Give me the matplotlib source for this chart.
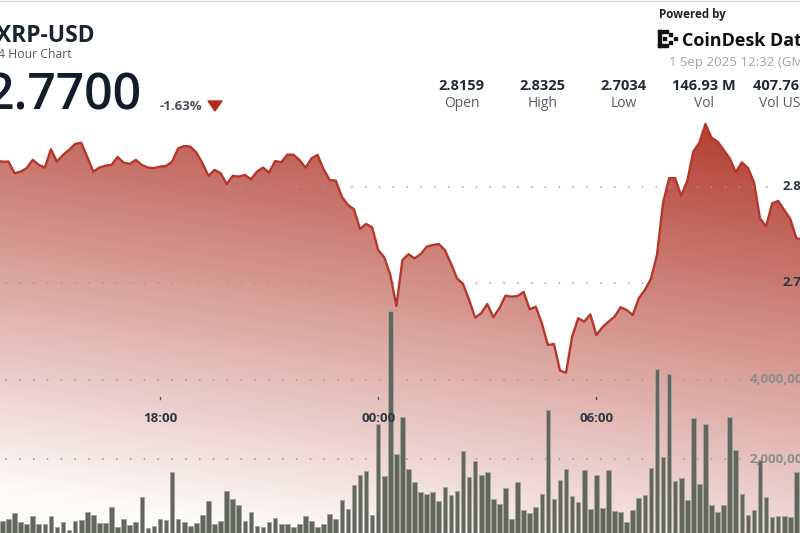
import numpy as np
import matplotlib
matplotlib.use("Agg")
import matplotlib.pyplot as plt
from matplotlib.patches import Polygon, Rectangle
from matplotlib.transforms import blended_transform_factory

plt.rcParams['font.family'] = ['Open Sans', 'DejaVu Sans']

# 10 minute data, minutes relative to 00:00 GMT 1 Sep 2025
price_start = -620
price = [
    2.8130, 2.8130, 2.8070, 2.8078, 2.8096, 2.8139, 2.8113, 2.8099, 2.8194, 2.8130,
    2.8165, 2.8191, 2.8222, 2.8228, 2.8154, 2.8078, 2.8099, 2.8109, 2.8113, 2.8154,
    2.8125, 2.8118, 2.8139, 2.8113, 2.8099, 2.8096, 2.8104, 2.8107, 2.8130, 2.8199,
    2.8211, 2.8208, 2.8177, 2.8122, 2.8056, 2.8087, 2.8070, 2.8014, 2.8056, 2.8052,
    2.8061, 2.8038, 2.8078, 2.8099, 2.8073, 2.8133, 2.8127, 2.8166, 2.8166, 2.8139,
    2.8099, 2.8147, 2.8165, 2.8090, 2.8035, 2.8031, 2.7948, 2.7905, 2.7883, 2.7781,
    2.7806, 2.7789, 2.7671, 2.7633, 2.7542, 2.7381, 2.7619, 2.7649, 2.7628, 2.7649,
    2.7688, 2.7697, 2.7702, 2.7671, 2.7602, 2.7524, 2.7495, 2.7412, 2.7320, 2.7343,
    2.7391, 2.7322, 2.7369, 2.7434, 2.7429, 2.7432, 2.7453, 2.7363, 2.7377, 2.7291,
    2.7178, 2.7183, 2.7045, 2.7034, 2.7221, 2.7317, 2.7299, 2.7337, 2.7230, 2.7270,
    2.7299, 2.7325, 2.7374, 2.7360, 2.7334, 2.7420, 2.7464, 2.7521, 2.7645, 2.7915,
    2.8044, 2.8044, 2.7952, 2.8030, 2.8182, 2.8229, 2.8325, 2.8254, 2.8234, 2.8191,
    2.8147, 2.8076, 2.8126, 2.8097, 2.8024, 2.7836, 2.7793, 2.7913, 2.7926, 2.7879,
    2.7832, 2.7732,
]
open_time, open_price = -690, 2.8159
close_time, close_price = 750, 2.7700

vol_start = -620
volume = [
    451e3, 502e3, 638e3, 426e3, 368e3, 578e3, 361e3, 361e3, 570e3, 300e3,
    411e3, 217e3, 444e3, 477e3, 663e3, 588e3, 393e3, 393e3, 797e3, 300e3,
    494e3, 335e3, 411e3, 1042e3, 260e3, 318e3, 494e3, 477e3, 1672e3, 494e3,
    426e3, 325e3, 401e3,
    595e3, 941e3, 361e3, 444e3, 1201e3, 999e3, 847e3, 444e3, 678e3, 318e3,
    285e3, 419e3, 512e3, 361e3, 361e3, 285e3, 361e3, 570e3, 451e3, 293e3,
    361e3, 628e3, 487e3, 974e3, 754e3, 1344e3, 1612e3, 1712e3, 595e3, 2890e3,
    1586e3, 5748e3, 2134e3,
    3067e3, 1763e3, 1435e3, 1175e3, 1125e3, 1168e3, 948e3, 1309e3, 1107e3, 1201e3,
    2209e3, 1546e3, 1950e3, 1612e3, 1687e3, 999e3, 865e3, 1276e3, 487e3, 1420e3,
    721e3, 638e3, 805e3, 1125e3, 3243e3, 991e3, 1470e3, 1763e3, 1082e3, 923e3,
    1723e3, 739e3, 1604e3,
    764e3, 1730e3, 704e3, 663e3, 411e3, 729e3, 1016e3, 1100e3, 1773e3, 4270e3,
    2066e3, 4151e3, 1445e3, 1528e3, 981e3, 3034e3, 1385e3, 2898e3, 840e3, 671e3,
    840e3, 3059e3, 2235e3, 1132e3, 603e3, 714e3, 1982e3, 1049e3, 552e3, 562e3,
    562e3, 552e3, 1680e3, 1496e3,
]

tick_times = [-360, 0, 360]
tick_labels = ['18:00', '00:00', '06:00']
price_grid = [2.80, 2.75]
vol_grid = [4_000_000, 2_000_000]

stat_values = ['2.8159', '2.8325', '2.7034', '146.93 M', '407.76 M']
stat_names = ['Open', 'High', 'Low', 'Vol', 'Vol USD']

W, H = 800, 533
fig = plt.figure(figsize=(W / 100, H / 100), dpi=100)


def fx(x):
    return x / W


def fy(y):
    return 1 - y / H


ax = fig.add_axes([0, 0, 1, 1])
ax2 = ax.twinx()
ax2.set_position([0, 0, 1, 1])
for a in (ax, ax2):
    a.set_axis_off()

xlim = (-624, 696)
ylim = (2.6202, 2.8969)
ax.set_xlim(*xlim)
ax.set_ylim(*ylim)
ax2.set_ylim(141000, 13584000)

t = np.concatenate([[open_time], price_start + 10 * np.arange(len(price)), [close_time]])
p = np.concatenate([[open_price], price, [close_price]])

# gradient fill under the price line
poly = ax.fill_between(t, p, ylim[0] - 0.05, facecolor='none', edgecolor='none')
yy, xx = np.mgrid[0:H, 0:W]
alpha = np.clip(0.95 - 0.0020 * (yy - 130) - 0.0003 * (700 - xx), 0.02, 1)
base = np.array([0.69, 0.22, 0.17])
img = 1 - alpha[..., None] * (1 - base)
im = ax.imshow(img, extent=(xlim[0], xlim[1], ylim[0], ylim[1]), aspect='auto',
               origin='upper', zorder=1, interpolation='bilinear')
im.set_clip_path(poly.get_paths()[0], transform=ax.transData)

dots = dict(color='#9a9a9a', linewidth=1.2, linestyle=(0, (0.1, 8.2)),
            dash_capstyle='round')
for g in price_grid:
    ax.axhline(g, xmin=0.007, xmax=0.965, zorder=2, **dots)
for g in vol_grid:
    ax2.axhline(g, xmin=0.007, xmax=0.93, zorder=1, **dots)

ax.plot(t, p, color='#b5372b', linewidth=1.7, zorder=4, solid_joinstyle='round')

vt = vol_start + 10 * np.arange(len(volume))
ax2.bar(vt, volume, width=7.6, color='#62665e', edgecolor='#a3a69e',
        linewidth=0.6, zorder=3)

# axis labels
for g in price_grid:
    ax.text(fx(783), g, f'{g:.2f}', transform=blended_transform_factory(fig.transFigure, ax.transData),
            ha='left', va='center', fontsize=9.5, weight='bold', color='#2c3542')
for g in vol_grid:
    ax2.text(fx(750), g, f'{g:,.0f}', transform=blended_transform_factory(fig.transFigure, ax2.transData),
             ha='left', va='center', fontsize=9.5, weight='bold', color='#8c8c8c',
             zorder=6)

tr = blended_transform_factory(ax2.transData, fig.transFigure)
for tt, lab in zip(tick_times, tick_labels):
    ax2.plot([tt, tt], [fy(397), fy(399)], transform=tr, color='#555', lw=1, zorder=5)
    ax2.text(tt, fy(419), lab, transform=tr, ha='center', va='center',
             fontsize=9.5, weight='bold', color='#2c3542', zorder=6)

# header
fig.text(fx(94.3), fy(41.7), 'XRP-USD', ha='right', va='baseline', fontsize=16.5,
         weight='bold', color='#1b2330')
fig.text(fx(72), fy(58.3), '24 Hour Chart', ha='right', va='baseline', fontsize=8.8,
         color='#555c66')
fig.text(fx(141.7), fy(109.5), '2.7700', ha='right', va='baseline', fontsize=36,
         weight='semibold', color='#141c2b')
fig.text(fx(159.3), fy(110.5), '-1.63%', ha='left', va='baseline', fontsize=9.5,
         weight='bold', color='#4a4f57')
fig.patches.append(Polygon([(fx(208), fy(101)), (fx(222), fy(101)), (fx(215), fy(111))],
                           closed=True, transform=fig.transFigure, color='#b52a1e'))

centers = [461.7, 542.5, 623.5, 704.3, 784.5]
for cx, v, n in zip(centers, stat_values, stat_names):
    fig.text(fx(cx), fy(90), v, ha='center', va='baseline', fontsize=10.5,
             weight='bold', color='#222a35')
    fig.text(fx(cx), fy(106.7), n, ha='center', va='baseline', fontsize=10,
             color='#555c66')

fig.text(fx(659.3), fy(18.3), 'Powered by', ha='left', va='baseline', fontsize=8.4,
         weight='bold', color='#222222')
# logo mark
for (x0, y0, w, h) in [(658, 30, 3, 17), (658, 30, 10, 3), (658, 44, 10, 3),
                       (663, 37, 3, 3), (669, 33, 3, 3), (669, 41, 3, 3), (674, 37, 3, 3)]:
    fig.patches.append(Rectangle((fx(x0), fy(y0 + h)), w / W, h / H,
                                 transform=fig.transFigure, color='#111111'))
fig.text(fx(681.7), fy(46), 'CoinDesk Data', ha='left', va='baseline', fontsize=13,
         weight='bold', color='#111111')
fig.text(fx(669.3), fy(66), '1 Sep 2025 12:32 (GMT)', ha='left', va='baseline',
         fontsize=9.6, color='#a3a3a3')

fig.add_artist(plt.Line2D([0, 1], [fy(0.5), fy(0.5)], transform=fig.transFigure,
                          color='#dddddd', lw=1))

fig.savefig('out.png', dpi=100)
